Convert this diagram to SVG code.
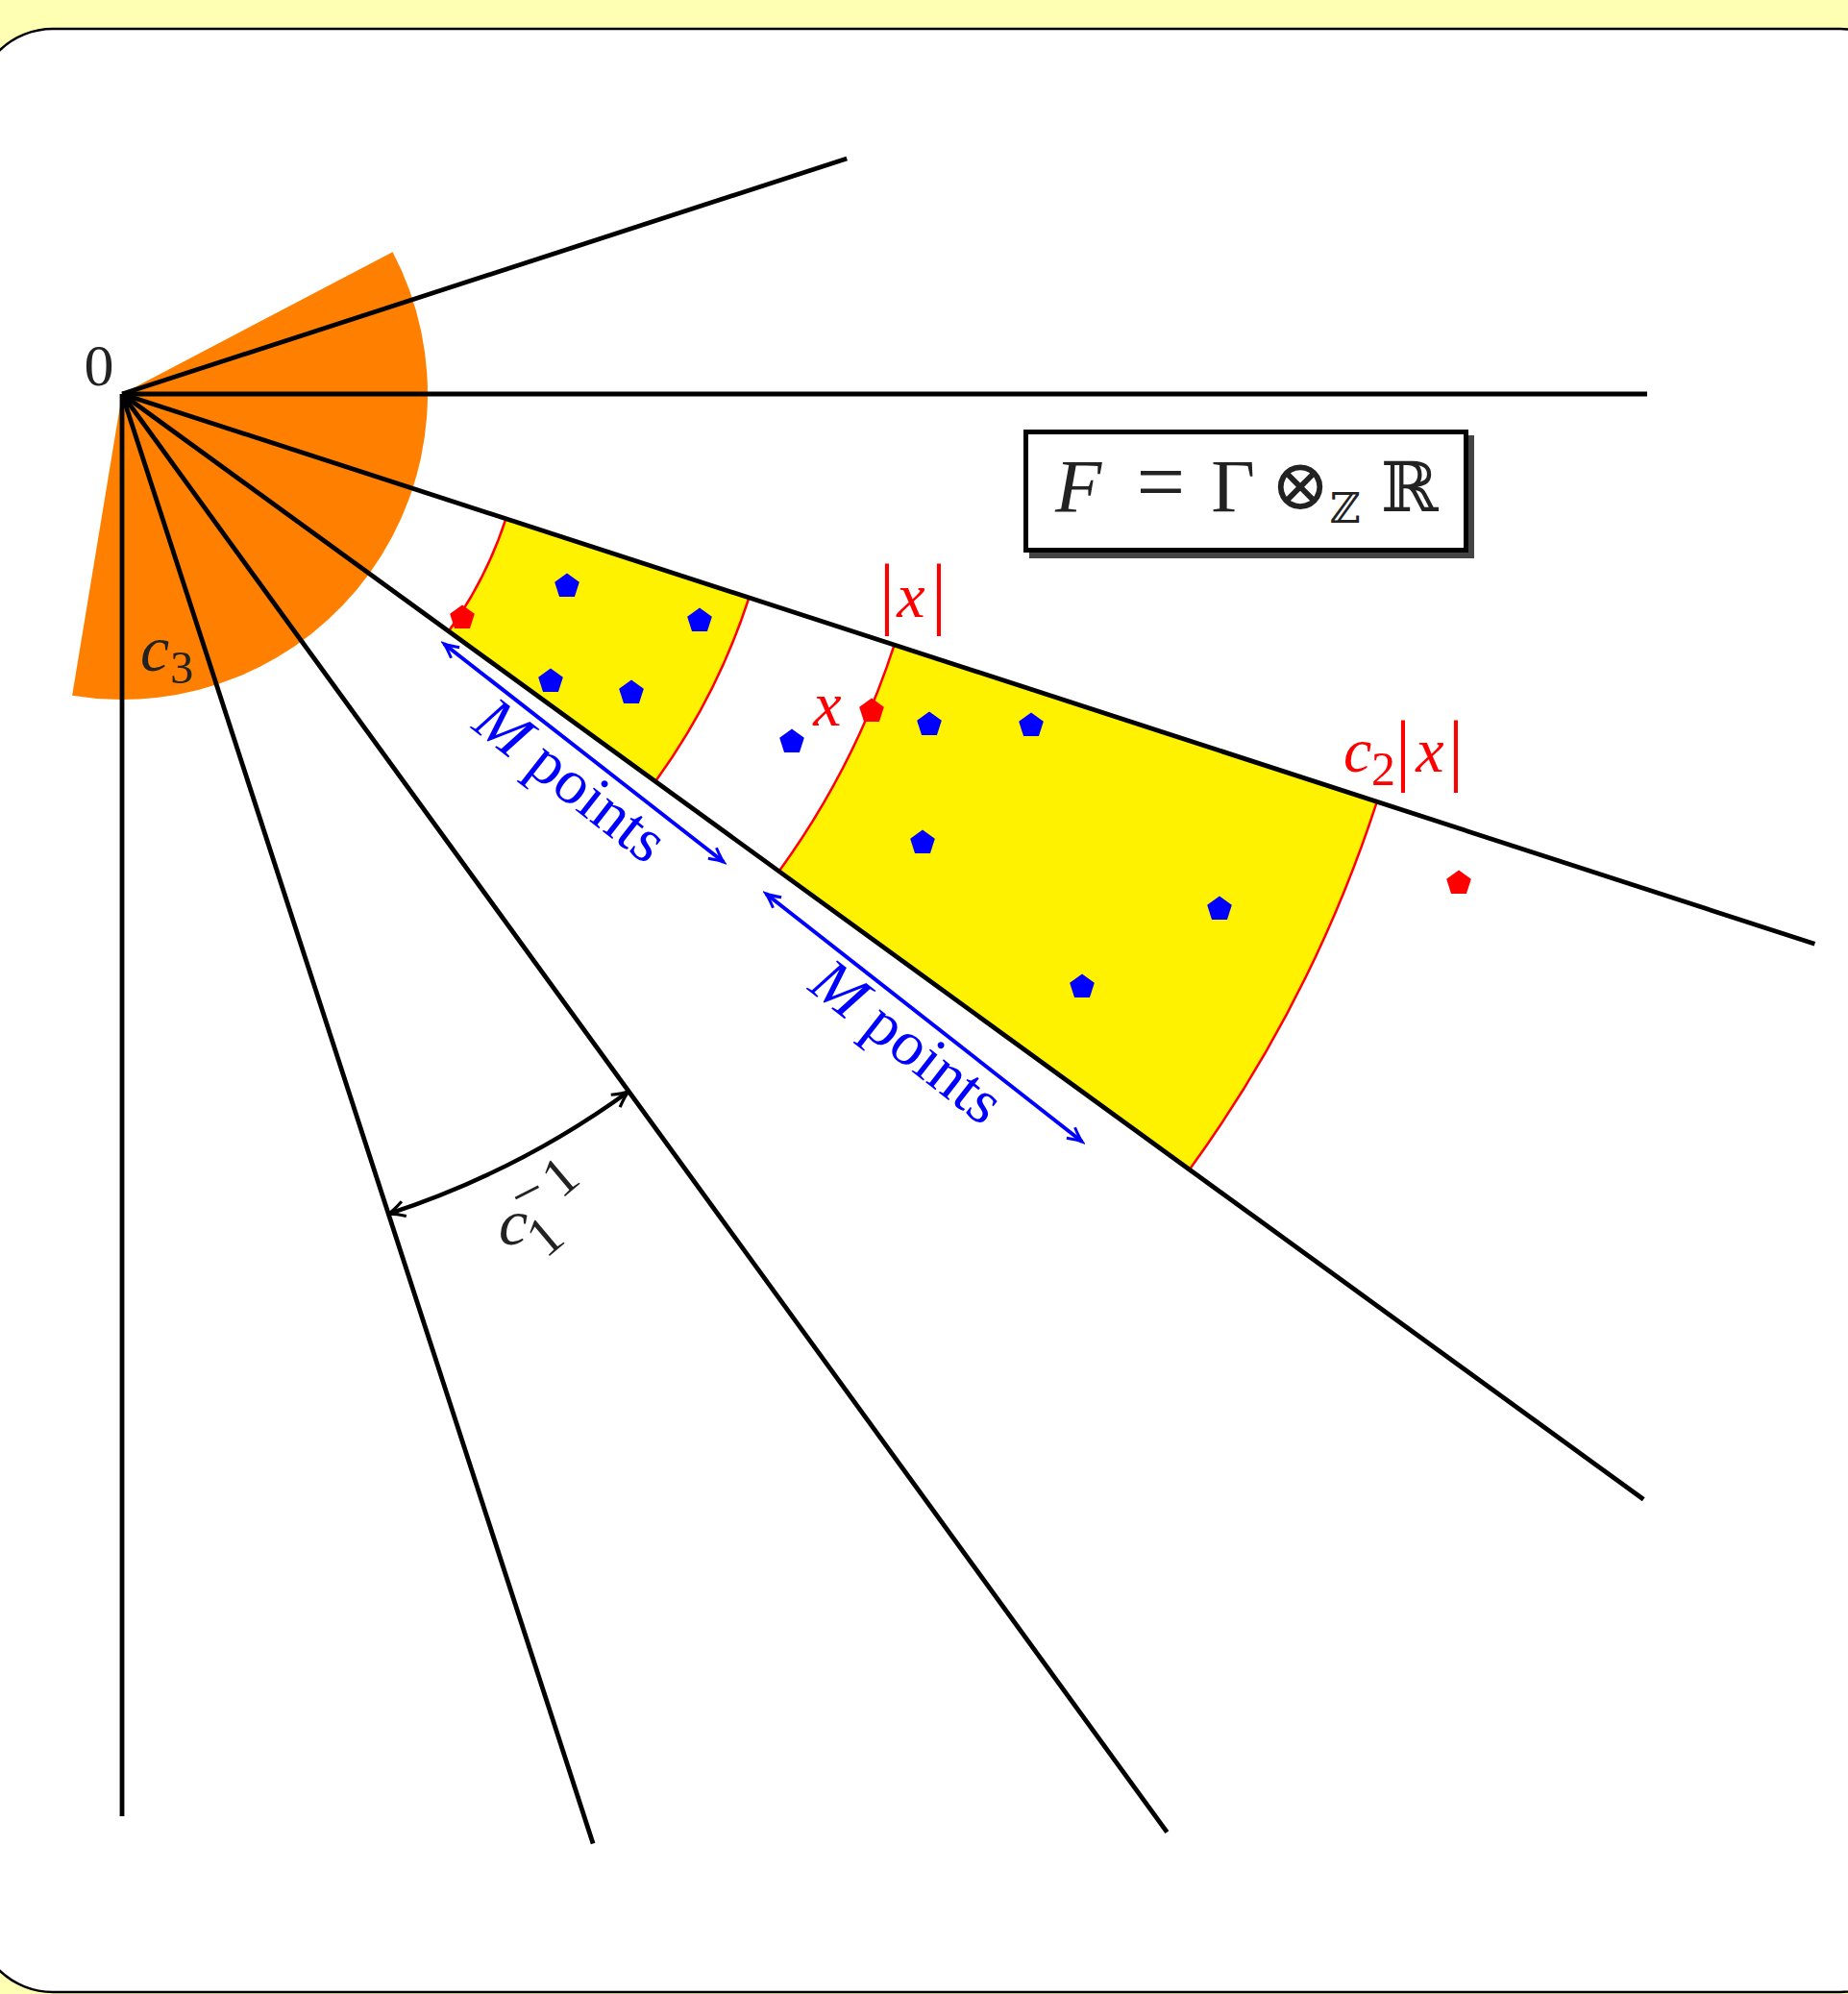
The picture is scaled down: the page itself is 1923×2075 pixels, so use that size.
<svg xmlns="http://www.w3.org/2000/svg" width="1923" height="2075" viewBox="0 0 1923 2075">
<style>
.ray{stroke:#000;stroke-width:4.8;fill:none}
.arcr{stroke:#ff0000;stroke-width:2.5;fill:none}
.yel{fill:#fff200;stroke:none}
.bp{fill:#0000ff}
.rp{fill:#ff0000}
.tx{font-family:"Liberation Serif","DejaVu Serif",serif;fill:#222}
.it{font-style:italic}
.red{fill:#ff0000}
.blue{fill:#0000ff}
</style>
<defs>
<path id="pent" d="M0,-13.5 L12.84,-4.17 L7.94,10.92 L-7.94,10.92 L-12.84,-4.17 Z"/>
<marker id="ab" viewBox="-18 -10 22 20" refX="0" refY="0" markerWidth="22" markerHeight="20" markerUnits="userSpaceOnUse" orient="auto-start-reverse">
<path d="M -15 -7 Q -5 -1.5 0 0 Q -5 1.5 -15 7" fill="none" stroke="#0000ff" stroke-width="3"/>
</marker>
<marker id="ak" viewBox="-20 -11 24 22" refX="0" refY="0" markerWidth="24" markerHeight="22" markerUnits="userSpaceOnUse" orient="auto-start-reverse">
<path d="M -17 -8 Q -6 -1.5 0 0 Q -6 1.5 -17 8" fill="none" stroke="#000" stroke-width="3.2"/>
</marker>
</defs>

<g id="background">
<rect x="0" y="0" width="1923" height="2075" fill="#ffffb3"/>
<rect x="-25" y="30" width="2020" height="2043" rx="80" ry="80" fill="#ffffff" stroke="#000" stroke-width="2.5"/>
</g>

<g id="sector">
<path d="M127,410 L408.6,262.2 A318,318 0 0 1 75.1,723.7 Z" fill="#ff8000"/>
</g>

<g id="regions">
<path class="yel" d="M526.4,539.8 L779.4,622.0 A686,686 0 0 1 682.0,813.2 L466.8,656.9 A420,420 0 0 0 526.4,539.8 Z"/>
<path class="yel" d="M930.6,671.1 L1432.8,834.3 A1373,1373 0 0 1 1237.8,1217.0 L810.6,906.7 A845,845 0 0 0 930.6,671.1 Z"/>
<path class="arcr" d="M526.4,539.8 A420,420 0 0 1 466.8,656.9"/>
<path class="arcr" d="M779.4,622.0 A686,686 0 0 1 682.0,813.2"/>
<path class="arcr" d="M930.6,671.1 A845,845 0 0 1 810.6,906.7"/>
<path class="arcr" d="M1432.8,834.3 A1373,1373 0 0 1 1237.8,1217.0"/>
</g>

<g id="connectors">
<line class="ray" x1="127" y1="410" x2="881.2" y2="165.0"/>
<line class="ray" x1="127" y1="410" x2="1714" y2="410"/>
<line class="ray" x1="127" y1="410" x2="1888.4" y2="982.3"/>
<line class="ray" x1="127" y1="410" x2="1710.2" y2="1560.3"/>
<line class="ray" x1="127" y1="410" x2="1214.4" y2="1906.7"/>
<line class="ray" x1="127" y1="410" x2="617.1" y2="1918.4"/>
<line class="ray" x1="127" y1="410" x2="127" y2="1890"/>
<line x1="462" y1="670" x2="753" y2="897" stroke="#0000ff" stroke-width="4" marker-start="url(#ab)" marker-end="url(#ab)"/>
<line x1="797" y1="930" x2="1126" y2="1188" stroke="#0000ff" stroke-width="4" marker-start="url(#ab)" marker-end="url(#ab)"/>
<path d="M404.2,1263.1 A897,897 0 0 0 654.2,1135.7" fill="none" stroke="#000" stroke-width="4.5" marker-start="url(#ak)" marker-end="url(#ak)"/>
</g>

<g id="points">
<use href="#pent" class="bp" x="590" y="610"/>
<use href="#pent" class="bp" x="728" y="646"/>
<use href="#pent" class="bp" x="573" y="709"/>
<use href="#pent" class="bp" x="657" y="721"/>
<use href="#pent" class="bp" x="824" y="772"/>
<use href="#pent" class="bp" x="967" y="754"/>
<use href="#pent" class="bp" x="1073" y="755"/>
<use href="#pent" class="bp" x="960" y="877"/>
<use href="#pent" class="bp" x="1269" y="946"/>
<use href="#pent" class="bp" x="1126" y="1027"/>
<use href="#pent" class="rp" x="481" y="643"/>
<use href="#pent" class="rp" x="907" y="740"/>
<use href="#pent" class="rp" x="1518" y="919"/>
</g>

<g id="labels">
<text class="tx" x="103" y="401" font-size="62" text-anchor="middle">0</text>
<text class="tx" font-size="68"><tspan class="it" x="146" y="698">c</tspan><tspan x="177" y="711" font-size="48">3</tspan></text>
<text class="tx red" text-anchor="middle" font-size="82"><tspan x="923" y="644">|</tspan><tspan class="it" x="948" y="642" font-size="66">x</tspan><tspan x="977" y="644">|</tspan></text>
<text class="tx red it" x="861" y="755" font-size="66" text-anchor="middle">x</text>
<text class="tx red" font-size="66"><tspan class="it" x="1398" y="803">c</tspan><tspan x="1427" y="817" font-size="50">2</tspan></text>
<text class="tx red" text-anchor="middle" font-size="82"><tspan x="1460" y="807">|</tspan><tspan class="it" x="1488" y="803" font-size="66">x</tspan><tspan x="1515" y="807">|</tspan></text>
<text class="tx blue" font-size="66" text-anchor="middle" transform="translate(581,829) rotate(38)"><tspan class="it">M</tspan> points</text>
<text class="tx blue" font-size="66" text-anchor="middle" transform="translate(931,1101) rotate(38)"><tspan class="it">M</tspan> points</text>
<text class="tx it" x="519" y="1295" font-size="68">c</text>
<text class="tx" font-size="58" text-anchor="middle" transform="translate(579,1301) rotate(-40)">1</text>
<text class="tx" font-size="58" text-anchor="middle" transform="translate(557,1258) rotate(-27)">−</text>
<text class="tx" font-size="58" text-anchor="middle" transform="translate(595,1239) rotate(-40)">1</text>
</g>

<g id="box">
<rect x="1071" y="453" width="463" height="128" fill="#444"/>
<rect x="1067.5" y="449.5" width="458" height="123" fill="#fff" stroke="#000" stroke-width="5"/>
<text class="tx" font-size="79"><tspan class="it" x="1098" y="532">F</tspan></text>
<text class="tx" x="1208" y="532" font-size="90" text-anchor="middle">=</text>
<text class="tx" x="1283" y="532" font-size="79" text-anchor="middle">Γ</text>
<text class="tx" x="1353" y="530" font-size="74" text-anchor="middle" font-family="DejaVu Serif">⊗</text>
<text class="tx" x="1384" y="544" font-size="44" font-family="DejaVu Serif">ℤ</text>
<text class="tx" x="1437" y="532" font-size="72" font-family="DejaVu Serif">ℝ</text>
</g>
</svg>
